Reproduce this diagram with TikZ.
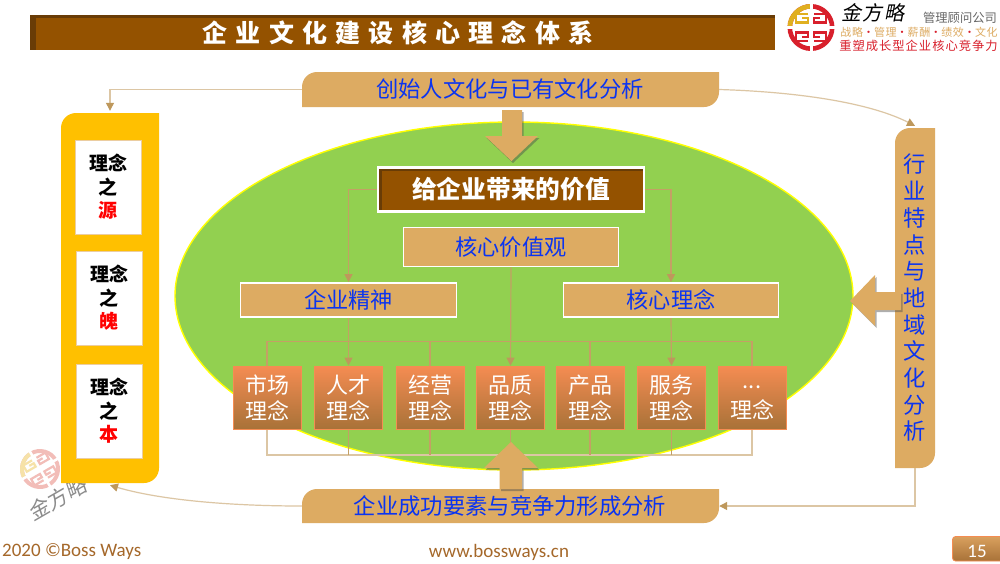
\documentclass[tikz,border=0pt]{standalone}
\usepackage{fontspec}
\setmainfont{Noto Sans CJK SC}
\newfontfamily\latinf{Carlito}
\usetikzlibrary{arrows.meta,shadows,backgrounds,calc}
\pgfdeclarelayer{bg}\pgfdeclarelayer{conn}
\pgfsetlayers{bg,conn,main}
\definecolor{tanc}{HTML}{DDAB62}
\definecolor{brownb}{HTML}{945200}
\definecolor{browne}{HTML}{693C06}
\definecolor{bluet}{HTML}{0B34F0}
\definecolor{linec}{HTML}{C4A065}
\definecolor{linep}{HTML}{DCC6A4}
\definecolor{tipc}{HTML}{BE985C}
\definecolor{foot}{HTML}{A5682A}
\definecolor{F1}{HTML}{F58C52}\definecolor{F2}{HTML}{F47A28}\definecolor{F3}{HTML}{A87238}
\definecolor{pg1}{HTML}{D9A05E}
\definecolor{panelc}{HTML}{FFC000}
\definecolor{ellf}{HTML}{92D050}
\definecolor{elld}{HTML}{FFFF00}
\definecolor{logoy}{HTML}{E0B020}
\definecolor{logor}{HTML}{D8202C}
\definecolor{wmy}{HTML}{F6E2A8}
\definecolor{wmr}{HTML}{F2BDB8}
\newcommand{\fsz}[2]{\fontsize{#1}{#2}\selectfont}
\tikzset{
 bar/.style={rectangle,inner sep=0pt,fill=browne,
   path picture={\fill[brownb] ([xshift=#1,yshift=-3pt]path picture bounding box.north west) rectangle (path picture bounding box.south east);}},
 tanbox/.style={rectangle,inner sep=0pt,fill=tanc,draw=white,line width=1.8pt,text=bluet,font=\fsz{22.2}{26}},
 lab/.style={rectangle,inner sep=0pt,text=bluet,font=\fsz{22.3}{26.7},align=center},
 leaf/.style={rectangle,inner sep=0pt,draw=none,fill=none},
 idea/.style={rectangle,inner sep=0pt,fill=white,draw=tanc!60,line width=1pt,minimum width=66pt,minimum height=94pt,align=center,font=\fsz{19}{23.5}\bfseries},
 conceptbox/.style={rectangle,inner sep=0pt,minimum width=68pt,minimum height=63pt,draw=F1,line width=.8pt,
   top color=F1,middle color=F2,bottom color=F3,text=white,font=\fsz{22}{26},align=center},
 link/.style={draw=linec,line width=1.2pt},
 linkp/.style={draw=linep,line width=2pt},
 tiplink/.style={link,-{Triangle[width=8pt,length=8pt,color=tipc]}},
 outlink/.style={draw=linep,line width=1.2pt,-{Triangle[width=8pt,length=8pt,color=tipc]}},
 block/.style={fill=tanc,drop shadow={shadow xshift=1.5pt,shadow yshift=-2pt,opacity=.45,fill=black!70}},
}
% shape with rounded top-left and bottom-right corners
\newcommand{\leafshape}[5]{\fill[#5] (#1,#4) [rounded corners=15pt] -- (#1,#2) [sharp corners] -- (#3,#2) [rounded corners=15pt] -- (#3,#4) [sharp corners] -- cycle;}
% round emblem
\newcommand{\emblem}[6]{%
 \begin{scope}[shift={(#1,#2)},rotate=#4,scale=#3,line cap=butt,line join=miter]
  \draw[#6,line width=#3*4.6pt] (0,0) circle (21.2);
  \begin{scope}\clip (-30,-30) rectangle (0,0);
   \draw[#5,line width=#3*4.6pt] (0,0) circle (21.2);
  \end{scope}
  \fill[white] (-1.5,-26) rectangle (1.5,26);
  \fill[white] (-26,-1.5) rectangle (26,1.5);
  \draw[#5,line width=#3*2.6pt] (-3,-13.5) -- (-15,-13.5) -- (-15,-5) -- (-3,-5) -- (-3,-9.5) -- (-9,-9.5);
  \draw[#6,line width=#3*2.6pt] (3,-13.5) -- (15,-13.5) -- (15,-5) -- (3,-5) -- (3,-9.5) -- (9,-9.5);
  \draw[#6,line width=#3*2.6pt] (-3,13.5) -- (-15,13.5) -- (-15,5) -- (-3,5) -- (-3,9.5) -- (-9,9.5);
  \draw[#6,line width=#3*2.6pt] (3,13.5) -- (15,13.5) -- (15,5) -- (3,5) -- (3,9.5) -- (9,9.5);
 \end{scope}}
\begin{document}
\begin{tikzpicture}[x=1pt,y=-1pt]
\useasboundingbox (0,0) rectangle (1000,563);

% ---- title
\node[bar=6pt,minimum width=745pt,minimum height=35pt,text=white,font=\fsz{25}{30}\bfseries] (title) at (402.5,32.5)
  {\hspace*{-9pt}\addfontfeature{LetterSpace=33}企业文化建设核心理念体系};

% ---- logo
\emblem{811}{27.5}{1}{0}{logoy}{logor}
\node[inner sep=0pt,font=\fsz{20}{24},text=black] (brand) at (873,13) {\addfontfeature{LetterSpace=8,FakeSlant=0.2}金方略};
\node[inner sep=0pt,font=\fsz{12.3}{14},text=black!60] (sub1) at (960,18) {管理顾问公司};
\node[inner sep=0pt,font=\fsz{11}{14},text=tanc] (sub2) at (919,32) {\addfontfeature{LetterSpace=6}战略\textcolor{logor}{•}管理\textcolor{logor}{•}薪酬\textcolor{logor}{•}绩效\textcolor{logor}{•}文化};
\node[inner sep=0pt,font=\fsz{12.3}{14},text=logor] (sub3) at (918.5,46) {\addfontfeature{LetterSpace=8}重塑成长型企业核心竞争力};

% ---- watermark
\emblem{40}{469}{.85}{30}{wmy}{wmr}
\node[inner sep=0pt,rotate=30,font=\fsz{21}{24},text=black!45] (brandw) at (57,499) {\addfontfeature{FakeSlant=0.2}金方略};

% ---- ellipse
\begin{pgfonlayer}{bg}
 \fill[white] (0,0) rectangle (1000,563);
 \filldraw[fill=ellf,draw=elld,line width=1.4pt] (514,296) ellipse [x radius=339,y radius=174];
\end{pgfonlayer}

% ---- outer leaf panels
\leafshape{302}{72}{719}{107}{tanc}
\node[leaf,minimum width=417pt,minimum height=35pt] (top) at (510.5,89.5) {};
\node[lab] (toptxt) at (510,89) {创始人文化与已有文化分析};

\leafshape{302}{489}{719}{523}{tanc}
\node[leaf,minimum width=417pt,minimum height=34pt] (bot) at (510.5,506) {};
\node[lab] (bottxt) at (510,506) {企业成功要素与竞争力形成分析};

\leafshape{895}{128}{935}{468}{tanc}
\node[leaf,minimum width=40pt,minimum height=340pt] (right) at (915,298) {};
\node[lab] (righttxt) at (915,298) {行\\业\\特\\点\\与\\地\\域\\文\\化\\分\\析};

\leafshape{61}{113}{159}{483}{panelc}
\node[leaf,minimum width=98pt,minimum height=370pt] (panel) at (110,298) {};

\node[idea] (a1) at (108,187) {理念\\之\\\textcolor{red}{源}};
\node[idea] (a2) at (109,298) {理念\\之\\\textcolor{red}{魄}};
\node[idea] (a3) at (109,411) {理念\\之\\\textcolor{red}{本}};

% ---- centre boxes
\node[bar=4pt,draw=white,line width=2.6pt,minimum width=266pt,minimum height=44pt,text=white,font=\fsz{24.7}{30}\bfseries] (value) at (511,189.5) {给企业带来的价值};
\node[tanbox,minimum width=215pt,minimum height=39pt] (core) at (511,247) {核心价值观};
\node[tanbox,minimum width=216pt,minimum height=34pt] (spirit) at (348.5,300) {企业精神};
\node[tanbox,minimum width=215pt,minimum height=34pt] (idea) at (671,300) {核心理念};

\node[conceptbox] (m1) at (267,397.5) {市场\\理念};
\node[conceptbox] (m2) at (348.5,397.5) {人才\\理念};
\node[conceptbox] (m3) at (430,397.5) {经营\\理念};
\node[conceptbox] (m4) at (510.5,397.5) {品质\\理念};
\node[conceptbox] (m5) at (590,397.5) {产品\\理念};
\node[conceptbox] (m6) at (671.5,397.5) {服务\\理念};
\node[conceptbox] (m7) at (752,397.5) {\vphantom{理}\raisebox{4pt}{...}\\理念};

% ---- block arrows
\path[block] (502,110) -- (522,110) -- (522,136) -- (538,136) -- (511.5,161) -- (485,136) -- (502,136) -- cycle;
\path[block] (499.5,489) -- (522,489) -- (522,468) -- (538,468) -- (511,442) -- (484,468) -- (499.5,468) -- cycle;
\path[block] (901,292) -- (875,292) -- (875,275) -- (850,301) -- (875,326) -- (875,310) -- (901,310) -- cycle;

% ---- connectors
\coordinate (busT) at (511,341.5);
\coordinate (busB) at (511,454.5);
\begin{pgfonlayer}{conn}
 \draw[linkp] (m1.south) -- (m1.south |- busB) -- (m7.south |- busB) -- (m7.south);
 \draw[tiplink] (value.west) -| (spirit.north);
 \draw[tiplink] (value.east) -| (idea.north);
 \draw[tiplink] (spirit.south) -- (m2.north);
 \draw[tiplink] (idea.south) -- (m6.north);
 \draw[tiplink] (core.south) -- (m4.north);
 \draw[link] (m1.north) -- (m1.north |- busT) -- (m7.north |- busT) -- (m7.north);
 \foreach \n in {m3,m5} \draw[link] (\n.north) -- (\n.north |- busT);
 \foreach \n in {m2,m3,m4,m5,m6} \draw[link] (\n.south) -- (\n.south |- busB);
\end{pgfonlayer}
\draw[outlink] (top.west) -| ([yshift=2pt]panel.north);
\draw[outlink] (top.east) .. controls (800,92) and (870,103) .. ([yshift=2pt]right.north);
\draw[outlink] (right.south) |- (bot.east);
\draw[outlink] (bot.west) .. controls (230,506) and (160,500) .. ([yshift=-2pt]panel.south);

% ---- footer
\node[inner sep=0pt,anchor=west,font=\latinf\fsz{19}{22},text=foot] (f1) at (2,552) {2020 ©Boss Ways};
\node[inner sep=0pt,font=\latinf\fsz{19}{22},text=foot] (f2) at (499,552) {www.bossways.cn};
\path[draw=F1,line width=.8pt,top color=pg1,bottom color=F3,rounded corners=3pt] (1003,536.5) -- (952.5,536.5) -- (952.5,561) -- (1003,561);
\node[inner sep=0pt,font=\latinf\fsz{19}{22},text=white] (pg) at (977,551) {15};
\end{tikzpicture}
\end{document}
